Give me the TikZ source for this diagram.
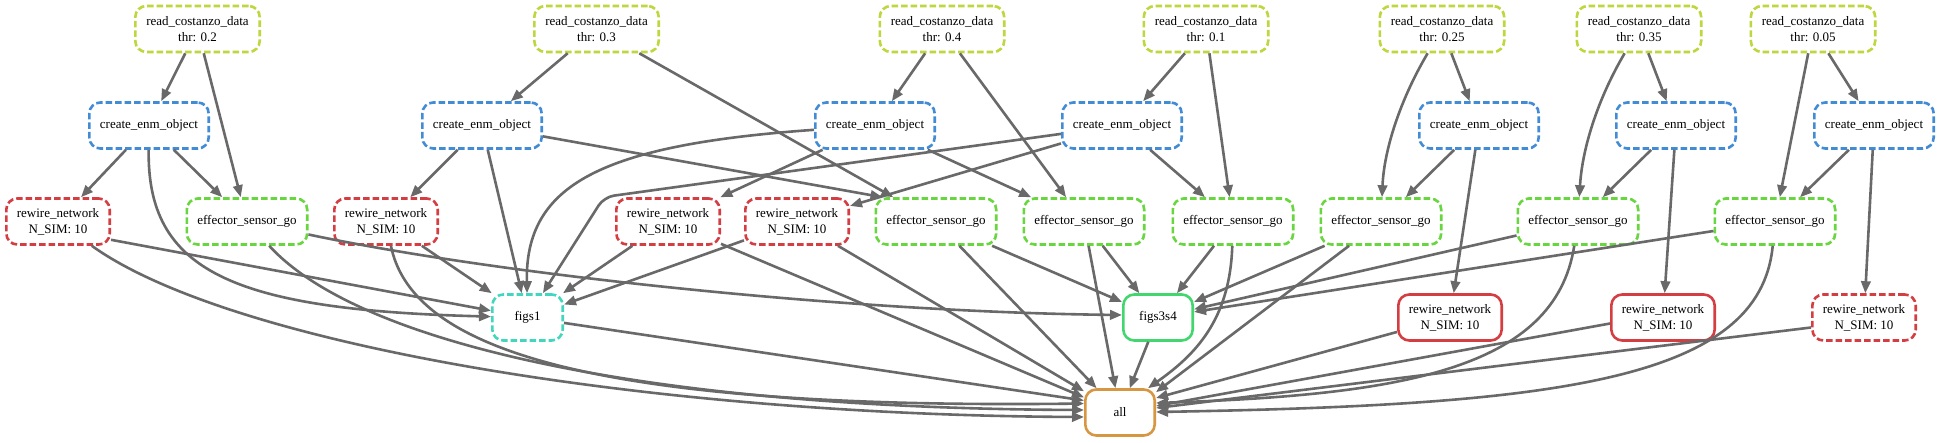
\documentclass[tikz,border=0pt]{standalone}
\usepackage{fontspec}
\setmainfont{Liberation Serif}
\usetikzlibrary{arrows.meta}
\definecolor{rdc}{RGB}{191,214,62}
\definecolor{cen}{RGB}{66,140,214}
\definecolor{rwn}{RGB}{212,62,66}
\definecolor{esg}{RGB}{104,214,62}
\definecolor{fsone}{RGB}{66,214,190}
\definecolor{fsthree}{RGB}{66,214,110}
\definecolor{allc}{RGB}{214,150,66}
\definecolor{edgec}{RGB}{105,105,105}
\begin{document}
\begin{tikzpicture}[x=1pt,y=1pt,
  job/.style={draw, rounded corners=11pt, line width=2.6pt, minimum height=46pt, align=center, font=\fontsize{13}{15.7}\selectfont, inner sep=2pt},
  pend/.style={dash pattern=on 6.5pt off 3pt},
  rdbox/.style={job,pend,draw=rdc,minimum width=124.4pt},
  cebox/.style={job,pend,draw=cen,minimum width=119.4pt},
  rwbox/.style={job,draw=rwn,minimum width=103.4pt},
  esbox/.style={job,pend,draw=esg,minimum width=120.4pt},
  dep/.style={draw=edgec, line width=2.6pt, -{Triangle[length=12pt,width=9.5pt]}},
]
\fill[white] (0,0) rectangle (1940,-443);
\useasboundingbox (0,0) rectangle (1940,-443);

% row 1
\node[rdbox] (R02) at (197.5,-29) {read\_costanzo\_data\\thr: 0.2};
\node[rdbox] (R03) at (596.5,-29) {read\_costanzo\_data\\thr: 0.3};
\node[rdbox] (R04) at (942,-29) {read\_costanzo\_data\\thr: 0.4};
\node[rdbox] (R01) at (1206,-29) {read\_costanzo\_data\\thr: 0.1};
\node[rdbox] (R025) at (1442,-29) {read\_costanzo\_data\\thr: 0.25};
\node[rdbox] (R035) at (1639,-29) {read\_costanzo\_data\\thr: 0.35};
\node[rdbox] (R005) at (1813,-29) {read\_costanzo\_data\\thr: 0.05};
% row 2
\node[cebox] (C02) at (149,-125.5) {create\_enm\_object};
\node[cebox] (C03) at (482,-125.5) {create\_enm\_object};
\node[cebox] (C04) at (875,-125.5) {create\_enm\_object};
\node[cebox] (C01) at (1122,-125.5) {create\_enm\_object};
\node[cebox] (C025) at (1479,-125.5) {create\_enm\_object};
\node[cebox] (C035) at (1676,-125.5) {create\_enm\_object};
\node[cebox] (C005) at (1874,-125.5) {create\_enm\_object};
% row 3
\node[rwbox,pend] (W02) at (58,-221.5) {rewire\_network\\N\_SIM: 10};
\node[esbox] (E02) at (247,-221.5) {effector\_sensor\_go};
\node[rwbox,pend] (W03) at (386,-221.5) {rewire\_network\\N\_SIM: 10};
\node[rwbox,pend] (W04) at (668,-221.5) {rewire\_network\\N\_SIM: 10};
\node[rwbox,pend] (W01) at (797,-221.5) {rewire\_network\\N\_SIM: 10};
\node[esbox] (E03) at (936,-221.5) {effector\_sensor\_go};
\node[esbox] (E04) at (1084,-221.5) {effector\_sensor\_go};
\node[esbox] (E01) at (1233,-221.5) {effector\_sensor\_go};
\node[esbox] (E025) at (1381,-221.5) {effector\_sensor\_go};
\node[esbox] (E035) at (1578,-221.5) {effector\_sensor\_go};
\node[esbox] (E005) at (1775,-221.5) {effector\_sensor\_go};
% row 4
\node[job,pend,draw=fsone,minimum width=70.4pt] (figs1) at (527.5,-317.5) {figs1};
\node[job,draw=fsthree,minimum width=69.4pt] (figs3s4) at (1158,-317.5) {figs3s4};
\node[rwbox] (W025) at (1450,-317.5) {rewire\_network\\N\_SIM: 10};
\node[rwbox] (W035) at (1663,-317.5) {rewire\_network\\N\_SIM: 10};
\node[rwbox,pend] (W005) at (1864,-317.5) {rewire\_network\\N\_SIM: 10};
% row 5
\node[job,draw=allc,minimum width=69.4pt] (all) at (1120,-412.5) {all};

% thr 0.2
\draw[dep] (R02) -- (C02);
\draw[dep] (R02) -- (E02);
\draw[dep] (C02) -- (W02);
\draw[dep] (C02) -- (E02);
\draw[dep] (C02) .. controls (147,-270) and (230,-310) .. (figs1);
\draw[dep] ([yshift=6pt]W02.south east) -- (figs1);
\draw[dep] (W02) .. controls (230,-345) and (650,-415) .. ([yshift=-4.5pt]all.west);
\draw[dep] (E02) .. controls (360,-345) and (650,-408) .. ([yshift=2.5pt]all.west);
\draw[dep] (E02) .. controls (500,-275) and (850,-312) .. ([yshift=2.5pt]figs3s4.west);
% thr 0.3
\draw[dep] (R03) -- (C03);
\draw[dep] (R03) -- (E03);
\draw[dep] (C03) -- (W03);
\draw[dep] (C03) -- (figs1);
\draw[dep] (C03) -- ([xshift=8pt]E03.north west);
\draw[dep] (W03) -- (figs1);
\draw[dep] (W03) .. controls (410,-340) and (560,-410) .. ([yshift=9pt]all.west);
\draw[dep] (E03) -- (all);
\draw[dep] (E03) -- (figs3s4);
% thr 0.4
\draw[dep] (R04) -- (C04);
\draw[dep] (R04) -- (E04);
\draw[dep] (C04) -- (W04);
\draw[dep] (C04) -- (E04);
\draw[dep] (C04) .. controls (600,-145) and (525,-185) .. (figs1);
\draw[dep] (W04) -- (figs1);
\draw[dep] (W04) -- (all);
\draw[dep] (E04) -- (figs3s4);
\draw[dep] (E04) -- (all);
% thr 0.1
\draw[dep] (R01) -- (C01);
\draw[dep] (R01) -- (E01);
\draw[dep] (C01) -- (W01);
\draw[dep] (C01) -- (E01);
\draw[dep, rounded corners=10pt] (C01) -- (604,-197) -- (figs1);
\draw[dep] (W01) -- (figs1);
\draw[dep] (W01) -- (all);
\draw[dep] (E01) -- (figs3s4);
\draw[dep] (E01) .. controls (1230,-320) and (1195,-355) .. ([xshift=-8pt]all.north east);
% figs
\draw[dep] (figs1) -- ([yshift=12pt]all.west);
\draw[dep] (figs3s4) -- (all);
% thr 0.25
\draw[dep] (R025) -- (C025);
\draw[dep] (R025) .. controls (1400,-100) and (1384,-150) .. (E025);
\draw[dep] (C025) -- (E025);
\draw[dep] (C025) -- (W025);
\draw[dep] (E025) -- (figs3s4);
\draw[dep] (E025) -- ([yshift=-4pt]all.north east);
\draw[dep] (W025) -- ([yshift=14.5pt]all.east);
% thr 0.35
\draw[dep] (R035) -- (C035);
\draw[dep] (R035) .. controls (1597,-100) and (1582,-150) .. (E035);
\draw[dep] (C035) -- (E035);
\draw[dep] (C035) -- (W035);
\draw[dep] (E035) -- (figs3s4);
\draw[dep] (E035) .. controls (1555,-370) and (1400,-395) .. ([yshift=9.5pt]all.east);
\draw[dep] ([yshift=-6pt]W035.west) -- ([yshift=6.5pt]all.east);
% thr 0.05
\draw[dep] (R005) -- (C005);
\draw[dep] (R005) -- (E005);
\draw[dep] (C005) -- (E005);
\draw[dep] (C005) -- (W005);
\draw[dep] (E005) -- (figs3s4);
\draw[dep] (E005) .. controls (1760,-380) and (1560,-405) .. ([yshift=0.5pt]all.east);
\draw[dep] ([yshift=-10pt]W005.west) -- ([yshift=4.5pt]all.east);
\end{tikzpicture}
\end{document}
